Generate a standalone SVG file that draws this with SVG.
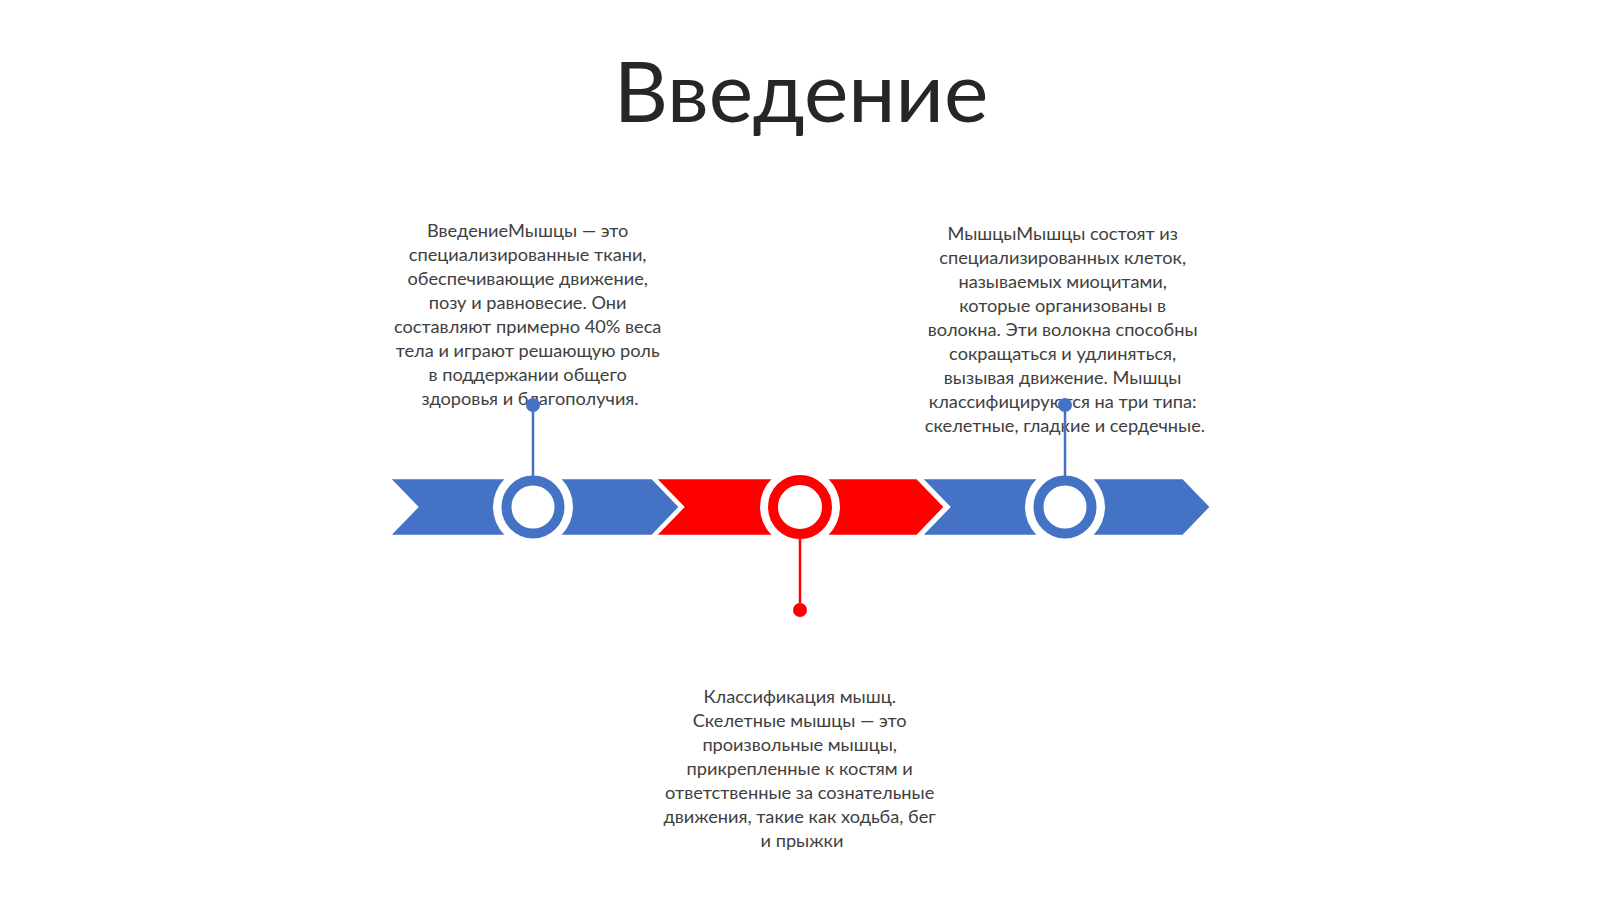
<svg xmlns="http://www.w3.org/2000/svg" width="1600" height="899" viewBox="0 0 1600 899">
<style>
.t{font-family:Lato,"Noto Sans",sans-serif;font-size:18.2px;fill:#404040;text-anchor:middle}
.title{font-family:Lato,"Noto Sans",sans-serif;font-size:84px;fill:#262626;text-anchor:middle}
.blue{fill:#4472C4}
.red{fill:#FF0000}
.chev{stroke:#fff;stroke-width:2.5}
.ringb{fill:#fff;stroke:#4472C4;stroke-width:10}
.ringr{fill:#fff;stroke:#FF0000;stroke-width:10}
.halo{fill:#fff}
</style>
<rect width="1600" height="899" fill="#fff"/>
<text class="title" x="801" y="122">Введение</text>
<g id="band">
<path class="chev blue" d="M389 478 L652 478 L680 507 L652 536 L389 536 L417 507 Z"/>
<path class="chev red" d="M655 478 L917 478 L945 507 L917 536 L655 536 L683 507 Z"/>
<path class="chev blue" d="M921 478 L1183 478 L1211 507 L1183 536 L921 536 L949 507 Z"/>
</g>
<g id="node1">
<circle class="halo" cx="533" cy="507" r="40"/>
<circle class="ringb" cx="533" cy="507" r="26.5"/>
<text class="t" x="530">
<tspan x="530" y="237">ВведениеМышцы — это</tspan>
<tspan x="530" y="261">специализированные ткани,</tspan>
<tspan x="530" y="285">обеспечивающие движение,</tspan>
<tspan x="530" y="309">позу и равновесие. Они</tspan>
<tspan x="530" y="333">составляют примерно 40% веса</tspan>
<tspan x="530" y="357">тела и играют решающую роль</tspan>
<tspan x="530" y="381">в поддержании общего</tspan>
<tspan x="530" y="405">здоровья и благополучия.</tspan>
</text>
</g>
<g id="node2">
<circle class="halo" cx="800" cy="507" r="40"/>
<circle class="ringr" cx="800" cy="507" r="27"/>
<text class="t" x="802">
<tspan x="802" y="703">Классификация мышц.</tspan>
<tspan x="802" y="727">Скелетные мышцы — это</tspan>
<tspan x="802" y="751">произвольные мышцы,</tspan>
<tspan x="802" y="775">прикрепленные к костям и</tspan>
<tspan x="802" y="799">ответственные за сознательные</tspan>
<tspan x="802" y="823">движения, такие как ходьба, бег</tspan>
<tspan x="802" y="847">и прыжки</tspan>
</text>
</g>
<g id="node3">
<circle class="halo" cx="1065" cy="507" r="40"/>
<circle class="ringb" cx="1065" cy="507" r="26.5"/>
<text class="t" x="1065">
<tspan x="1065" y="240">МышцыМышцы состоят из</tspan>
<tspan x="1065" y="264">специализированных клеток,</tspan>
<tspan x="1065" y="288">называемых миоцитами,</tspan>
<tspan x="1065" y="312">которые организованы в</tspan>
<tspan x="1065" y="336">волокна. Эти волокна способны</tspan>
<tspan x="1065" y="360">сокращаться и удлиняться,</tspan>
<tspan x="1065" y="384">вызывая движение. Мышцы</tspan>
<tspan x="1065" y="408">классифицируются на три типа:</tspan>
<tspan x="1065" y="432">скелетные, гладкие и сердечные.</tspan>
</text>
</g>
<g id="connectors">
<line x1="533" y1="405" x2="533" y2="476" stroke="#4472C4" stroke-width="2.5"/>
<circle cx="533" cy="405" r="7" fill="#4472C4"/>
<line x1="1065" y1="405" x2="1065" y2="476" stroke="#4472C4" stroke-width="2.5"/>
<circle cx="1065" cy="405" r="7" fill="#4472C4"/>
<line x1="800" y1="538" x2="800" y2="610" stroke="#FF0000" stroke-width="2.5"/>
<circle cx="800" cy="610" r="7" fill="#FF0000"/>
</g>
</svg>
